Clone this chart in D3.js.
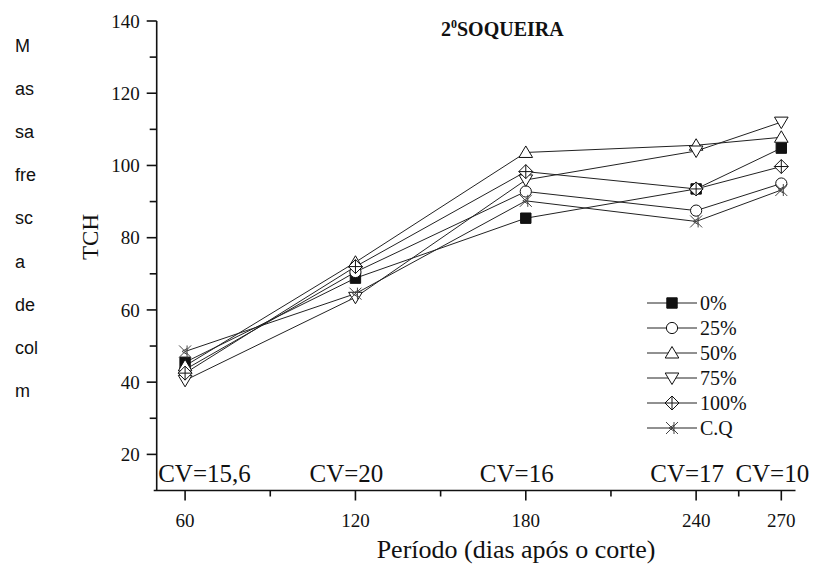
<!DOCTYPE html>
<html>
<head>
<meta charset="utf-8">
<script src="https://cdn.jsdelivr.net/npm/d3@7"></script>
<style>
  body { margin: 0; background: #fff; }
  svg { display: block; }
</style>
</head>
<body>
<svg id="chart" width="818" height="565"></svg>
<script>
// Harvest period (days after cutting) and cane yield (TCH) per treatment
const periods = [60, 120, 180, 240, 270];
const seriesNames = ["0%", "25%", "50%", "75%", "100%", "C.Q"];
const tch0   = [45.5, 68.8, 85.4, 93.5, 104.8];
const tch25  = [43.5, 70.5, 92.8, 87.5, 95.0];
const tch50  = [44.5, 73.2, 103.6, 105.6, 107.8];
const tch75  = [40.5, 63.5, 96.0, 104.0, 112.0];
const tch100 = [42.5, 72.0, 98.3, 93.5, 99.7];
const tchCQ  = [48.5, 64.5, 90.2, 84.5, 93.2];
const cvLabels = ["CV=15,6", "CV=20", "CV=16", "CV=17", "CV=10"];
const xTicks = [60, 120, 180, 240, 270];
const xMinorTicks = [90, 150, 210, 255];
const yTicks = [20, 40, 60, 80, 100, 120, 140];
const yMinorTicks = [30, 50, 70, 90, 110, 130];
const sideWords = ["M", "as", "sa", "fre", "sc", "a", "de", "col", "m"];
const title = "SOQUEIRA";

const seriesValues = [tch0, tch25, tch50, tch75, tch100, tchCQ];
const markerKinds = ["square", "circle", "up", "down", "diamond", "cq"];

const SERIF = "'Liberation Serif', 'Times New Roman', Times, serif";
const SANS = "'Liberation Sans', Arial, Helvetica, sans-serif";

const svg = d3.select("#chart");
const ink = "#111";

const x = d3.scaleLinear().domain([50, 275]).range([156.7, 795.5]);
const y = d3.scaleLinear().domain([10, 140]).range([490.5, 21]);

// marker shapes
function markerPath(kind) {
  const p = d3.path();
  if (kind === "square") { p.rect(-5.2, -5.2, 10.4, 10.4); }
  else if (kind === "circle") { p.arc(0, 0, 5.6, 0, 2 * Math.PI); }
  else if (kind === "up") { p.moveTo(0, -6.5); p.lineTo(6.8, 5); p.lineTo(-6.8, 5); p.closePath(); }
  else if (kind === "down") { p.moveTo(0, 6.5); p.lineTo(6.8, -5); p.lineTo(-6.8, -5); p.closePath(); }
  else if (kind === "diamond") {
    p.moveTo(0, -7); p.lineTo(7, 0); p.lineTo(0, 7); p.lineTo(-7, 0); p.closePath();
    p.moveTo(0, -7); p.lineTo(0, 7); p.moveTo(-7, 0); p.lineTo(7, 0);
  }
  else if (kind === "cq") {
    p.moveTo(-6, -6); p.lineTo(6, 6); p.moveTo(-6, 6); p.lineTo(6, -6);
    p.moveTo(2, -6); p.lineTo(2, 6);
    p.moveTo(2, -3); p.lineTo(-3, 0); p.lineTo(2, 3);
  }
  return p.toString();
}
function drawMarker(g, kind, cx, cy) {
  g.append("path")
    .attr("d", markerPath(kind))
    .attr("transform", `translate(${cx},${cy})`)
    .attr("fill", kind === "square" ? ink : (kind === "cq" ? "none" : "#fff"))
    .attr("stroke", kind === "cq" ? "#444" : ink)
    .attr("stroke-width", 1);
}

// side words
svg.append("g").selectAll("text").data(sideWords).join("text")
  .attr("font-family", SANS).attr("fill", ink)
  .attr("x", 15)
  .attr("y", (d, i) => 52 + i * 43.1)
  .attr("font-size", 18)
  .text(d => d);

// axes
const yAxis = svg.append("g").attr("transform", `translate(${x(50)},0)`);
yAxis.append("line").attr("y1", y(140)).attr("y2", y(10)).attr("stroke", ink).attr("stroke-width", 1.6);
yAxis.selectAll(".maj").data(yTicks).join("line").attr("class", "maj")
  .attr("x1", -10).attr("x2", 0).attr("y1", d => y(d)).attr("y2", d => y(d))
  .attr("stroke", ink).attr("stroke-width", 1.6);
yAxis.selectAll(".min").data(yMinorTicks).join("line").attr("class", "min")
  .attr("x1", -7).attr("x2", 0).attr("y1", d => y(d)).attr("y2", d => y(d))
  .attr("stroke", ink).attr("stroke-width", 1.6);
yAxis.selectAll("text").data(yTicks).join("text")
  .attr("font-family", SERIF).attr("fill", ink)
  .attr("x", -17).attr("y", d => y(d)).attr("dy", "0.35em")
  .attr("text-anchor", "end").attr("font-size", 19)
  .text(d => d);

const xAxis = svg.append("g").attr("transform", `translate(0,${y(10)})`);
xAxis.append("line").attr("x1", x(50) - 3).attr("x2", x(275)).attr("stroke", ink).attr("stroke-width", 1.6);
xAxis.selectAll(".maj").data(xTicks).join("line").attr("class", "maj")
  .attr("x1", d => x(d)).attr("x2", d => x(d)).attr("y1", 0).attr("y2", 10)
  .attr("stroke", ink).attr("stroke-width", 1.6);
xAxis.selectAll(".min").data(xMinorTicks).join("line").attr("class", "min")
  .attr("x1", d => x(d)).attr("x2", d => x(d)).attr("y1", 0).attr("y2", 6)
  .attr("stroke", ink).attr("stroke-width", 1.6);
xAxis.selectAll("text").data(xTicks).join("text")
  .attr("font-family", SERIF).attr("fill", ink)
  .attr("x", d => x(d)).attr("y", 36)
  .attr("text-anchor", "middle").attr("font-size", 19)
  .text(d => d);

// CV labels above the x axis
svg.append("g").selectAll("text").data(cvLabels).join("text")
  .attr("font-family", SERIF).attr("fill", ink)
  .attr("x", (d, i) => i === 0 ? x(50) + 1.5 : x(periods[i]) - 9)
  .attr("y", 482)
  .attr("text-anchor", (d, i) => i === 0 ? "start" : "middle")
  .attr("font-size", 25)
  .text(d => d);

// axis titles
svg.append("text").attr("font-family", SERIF).attr("fill", ink)
  .attr("x", 516).attr("y", 558).attr("text-anchor", "middle").attr("font-size", 26)
  .text("Período (dias após o corte)");
svg.append("text").attr("font-family", SERIF).attr("fill", ink)
  .attr("transform", "translate(98,237) rotate(-90)")
  .attr("text-anchor", "middle").attr("font-size", 23)
  .text("TCH");

// chart title
const t = svg.append("text").attr("font-family", SERIF).attr("fill", ink)
  .attr("x", 441).attr("y", 36).attr("font-size", 20).attr("font-weight", "bold");
t.append("tspan").text("2");
t.append("tspan").attr("font-size", 12).attr("dy", -8).text("0");
t.append("tspan").attr("dy", 8).text(title);

// series lines and markers
const line = d3.line().x((d, i) => x(periods[i])).y(d => y(d));
const plot = svg.append("g");
seriesValues.forEach(vals => {
  plot.append("path").attr("d", line(vals)).attr("fill", "none")
    .attr("stroke", "#222").attr("stroke-width", 1);
});
seriesValues.forEach((vals, s) => {
  vals.forEach((v, i) => drawMarker(plot, markerKinds[s], x(periods[i]), y(v)));
});

// legend
const legend = svg.append("g");
seriesNames.forEach((name, i) => {
  const ly = 303 + i * 25;
  legend.append("line").attr("x1", 647).attr("x2", 697).attr("y1", ly).attr("y2", ly)
    .attr("stroke", "#222").attr("stroke-width", 1);
  drawMarker(legend, markerKinds[i], 672, ly);
  legend.append("text").attr("font-family", SERIF).attr("fill", ink)
    .attr("x", 700).attr("y", ly).attr("dy", "0.35em").attr("font-size", 20)
    .text(name);
});
</script>
</body>
</html>
